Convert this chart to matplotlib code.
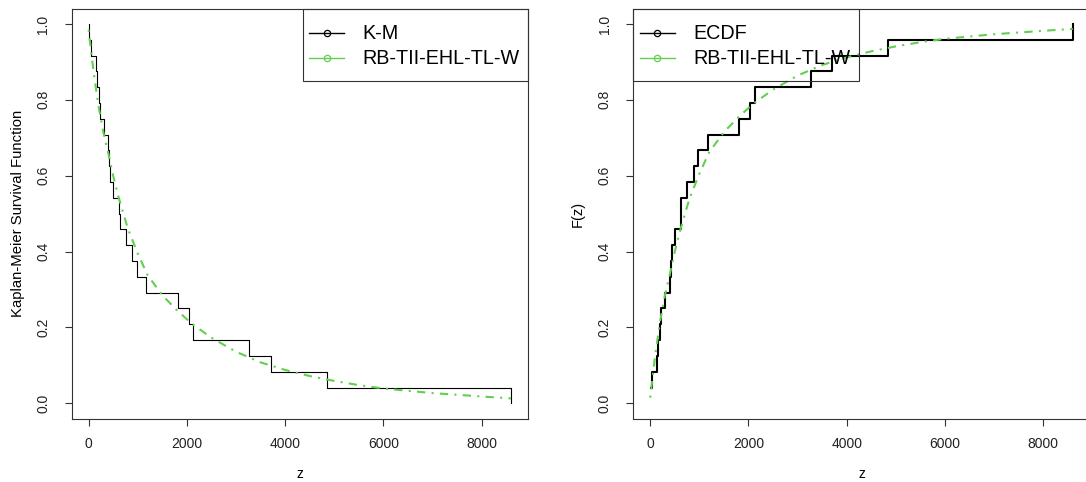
import matplotlib
matplotlib.use("Agg")
import matplotlib.pyplot as plt
from matplotlib.lines import Line2D
from matplotlib.patches import Rectangle

plt.rcParams['font.family'] = ['Liberation Sans', 'DejaVu Sans']

# ---- data ----
times = [18, 45, 143, 165, 204, 224, 305, 394, 414, 441, 496, 618, 631,
         754, 889, 978, 1168, 1813, 2037, 2125, 3266, 3707, 4848, 8600]
n = len(times)
km_surv = [1 - (i + 1) / n for i in range(n)]          # K-M survival after each time
ecdf_vals = [(i + 1) / n for i in range(n)]            # empirical CDF

fit_z = [0, 50, 100, 200, 300, 400, 500, 600, 800, 1000, 1200, 1500, 1800,
         2100, 2500, 3000, 3500, 4000, 4500, 5000, 5500, 6000, 7000, 8000, 8600]
fit_surv = [0.985, 0.93, 0.875, 0.785, 0.715, 0.66, 0.60, 0.548, 0.46, 0.395,
            0.338, 0.285, 0.245, 0.21, 0.173, 0.136, 0.108, 0.088, 0.072,
            0.059, 0.048, 0.039, 0.027, 0.018, 0.013]
fit_cdf = [1 - s for s in fit_surv]

xticks = [0, 2000, 4000, 6000, 8000]
yticks = [0.0, 0.2, 0.4, 0.6, 0.8, 1.0]
ytick_labels = ["0.0", "0.2", "0.4", "0.6", "0.8", "1.0"]

GREEN = "#61D04F"
AXC = "#333333"
W, H = 1086, 482

fig = plt.figure(figsize=(W / 100, H / 100), dpi=100)

def px_axes(x0, y0, x1, y1):
    return fig.add_axes([x0 / W, 1 - y1 / H, (x1 - x0) / W, (y1 - y0) / H])

axL = px_axes(71.7, 8.8, 528.3, 418.5)
axR = px_axes(633.3, 8.8, 1090.0, 418.5)

def style(ax):
    ax.set_xlim(-344, 8950)
    ax.set_ylim(-0.04, 1.04)
    ax.set_xticks(xticks)
    ax.set_xticklabels([str(t) for t in xticks])
    ax.set_yticks(yticks)
    ax.set_yticklabels(ytick_labels)
    for s in ax.spines.values():
        s.set_color(AXC)
        s.set_linewidth(0.8)
    ax.tick_params(axis='both', length=5, width=0.8, color=AXC,
                   labelsize=10, labelcolor='#222222')
    ax.tick_params(axis='x', pad=8)
    ax.tick_params(axis='y', pad=10.5, labelrotation=90)
    for lab in ax.get_yticklabels():
        lab.set_va('center')

# left: Kaplan-Meier
style(axL)
axL.step([0] + times, [1.0] + km_surv, where='post', color='black', lw=0.8)
axL.plot(fit_z, fit_surv, color=GREEN, lw=1.5, dashes=(1, 3, 4, 3))
axL.set_xlabel('z', fontsize=10)
axL.set_ylabel('Kaplan-Meier Survival Function', fontsize=10.7)
axL.xaxis.set_label_coords(0.5, -0.135)
axL.xaxis.label.set_va('center')
axL.yaxis.set_label_coords(-0.118, 0.5)
axL.yaxis.label.set_va('center')

# right: ECDF
style(axR)
axR.step(times, ecdf_vals, where='post', color='black', lw=1.5)
axR.plot(fit_z, fit_cdf, color=GREEN, lw=1.5, dashes=(1, 3, 4, 3))
axR.set_xlabel('z', fontsize=10)
axR.set_ylabel('F(z)', fontsize=10.5)
axR.xaxis.set_label_coords(0.5, -0.135)
axR.xaxis.label.set_va('center')
axR.yaxis.set_label_coords(-0.121, 0.5)
axR.yaxis.label.set_va('center')

def draw_legend(ax, box_px, labels):
    # box_px: (x0, y0, x1, y1) in figure pixels (top-left origin)
    x0, y0, x1, y1 = box_px
    to_fig = lambda x, y: (x / W, 1 - y / H)
    fx0, fy1 = to_fig(x0, y1)
    fig.patches.append(Rectangle((fx0, fy1), (x1 - x0) / W, (y1 - y0) / H,
                                 transform=fig.transFigure, fill=False,
                                 edgecolor=AXC, lw=0.8, zorder=5))
    rows = [y0 + 24.5, y0 + 49.5]
    colors = ['black', GREEN]
    for lab, col, ry in zip(labels, colors, rows):
        lx0, lx1 = x0 + 6.5, x0 + 41.5
        fig.add_artist(Line2D([lx0 / W, lx1 / W], [1 - ry / H, 1 - ry / H],
                              transform=fig.transFigure, color=col, lw=1.0,
                              zorder=6))
        fig.add_artist(Line2D([(lx0 + lx1) / 2 / W], [1 - ry / H],
                              transform=fig.transFigure, color=col, marker='o',
                              mfc='none', mec=col, ms=4.5, mew=0.9, lw=0,
                              zorder=6))
        fig.text((x0 + 60) / W, 1 - ry / H, lab, fontsize=14.2,
                 va='center', ha='left', color='black', zorder=6)

draw_legend(axL, (302.7, 8.8, 528.3, 81), ['K-M', 'RB-TII-EHL-TL-W'])
draw_legend(axR, (633.3, 8.8, 859.3, 81), ['ECDF', 'RB-TII-EHL-TL-W'])

fig.savefig('out.png', dpi=100)
